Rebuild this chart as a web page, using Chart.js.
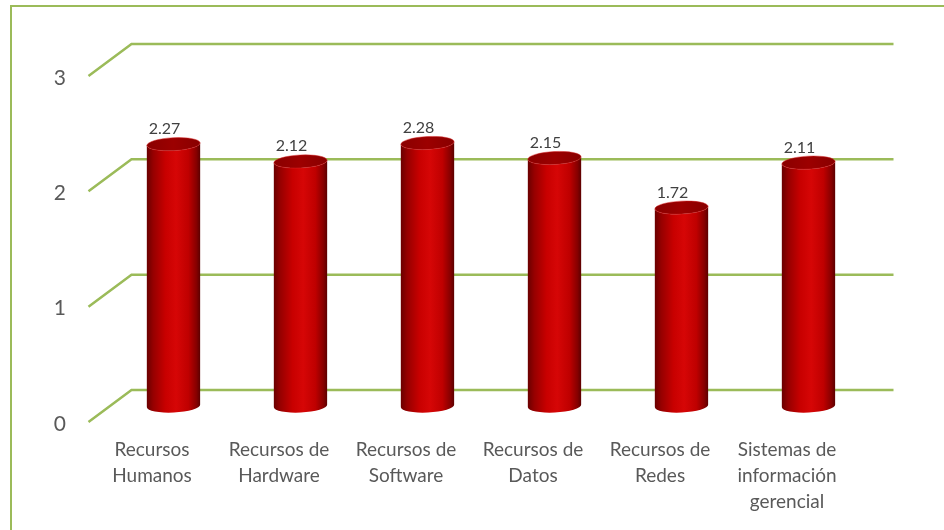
<!DOCTYPE html>
<html>
<head>
<meta charset="utf-8">
<script src="https://cdn.jsdelivr.net/npm/chart.js@4.4.1/dist/chart.umd.min.js"></script>
<style>
    html, body { margin: 0; padding: 0; background: #fff; }
    #wrap { position: relative; width: 944px; height: 530px; }
    #frame {
        position: absolute; left: 10px; top: 5px; width: 960px; height: 560px;
        border-left: 2px solid #9bbb59; border-top: 2px solid #9bbb59;
        pointer-events: none;
    }
    canvas { position: absolute; left: 0; top: 0; }
</style>
</head>
<body>
<div id="wrap">
    <canvas id="resChart" width="944" height="530"></canvas>
    <div id="frame"></div>
</div>
<script>
let categories = [
    ["Recursos", "Humanos"],
    ["Recursos de", "Hardware"],
    ["Recursos de", "Software"],
    ["Recursos de", "Datos"],
    ["Recursos de", "Redes"],
    ["Sistemas de", "información", "gerencial"]
];
let scores = [2.27, 2.12, 2.28, 2.15, 1.72, 2.11];
let yTicks = [0, 1, 2, 3];

// half of the 3D depth: back wall sits up-right, floor front down-left
let depthX = 21.5;
let depthY = 16;

// perspective gridlines: back wall line + diagonal side wall line
let wallGrid = {
    id: 'wallGrid',
    beforeDatasetsDraw(chart) {
        let ctx = chart.ctx;
        let y = chart.scales.y;
        let area = chart.chartArea;
        ctx.save();
        ctx.strokeStyle = '#9bbb59';
        ctx.lineWidth = 2.5;
        yTicks.forEach(v => {
            let py = y.getPixelForValue(v);
            ctx.beginPath();
            ctx.moveTo(area.left - depthX, py + depthY);
            ctx.lineTo(area.left + depthX, py - depthY);
            ctx.lineTo(area.right + depthX, py - depthY);
            ctx.stroke();
        });
        ctx.restore();
    }
};

// cylinders drawn on top of the (invisible) bar elements
let cylinders = {
    id: 'cylinders',
    afterDatasetsDraw(chart) {
        let ctx = chart.ctx;
        let meta = chart.getDatasetMeta(0);
        ctx.save();
        meta.data.forEach((bar, i) => {
            let x = bar.x, top = bar.y, base = bar.base;
            let rx = bar.width / 2, ry = 6.5, rot = -0.05;

            let body = ctx.createLinearGradient(x - rx, 0, x + rx, 0);
            body.addColorStop(0, '#6a0000');
            body.addColorStop(0.12, '#960000');
            body.addColorStop(0.35, '#c80000');
            body.addColorStop(0.55, '#d60606');
            body.addColorStop(0.78, '#bf0000');
            body.addColorStop(0.93, '#860000');
            body.addColorStop(1, '#5c0000');

            ctx.beginPath();
            ctx.moveTo(x - rx, top);
            ctx.lineTo(x - rx, base);
            ctx.ellipse(x, base, rx, ry, rot, Math.PI, 0, true);
            ctx.lineTo(x + rx, top);
            ctx.ellipse(x, top, rx, ry, rot, 0, Math.PI, false);
            ctx.closePath();
            ctx.fillStyle = body;
            ctx.fill();

            let cap = ctx.createLinearGradient(x - rx, 0, x + rx, 0);
            cap.addColorStop(0, '#8a0000');
            cap.addColorStop(0.5, '#9c0000');
            cap.addColorStop(1, '#880000');
            ctx.beginPath();
            ctx.ellipse(x, top, rx, ry, rot, 0, Math.PI * 2);
            ctx.fillStyle = cap;
            ctx.fill();
            ctx.strokeStyle = 'rgba(220,40,40,0.6)';
            ctx.lineWidth = 0.8;
            ctx.stroke();

            // value label
            ctx.fillStyle = '#404040';
            ctx.font = '16px Lato, "Liberation Sans", sans-serif';
            ctx.textAlign = 'center';
            ctx.textBaseline = 'alphabetic';
            ctx.fillText(scores[i].toFixed(2), x - 9, top - 10);
        });
        ctx.restore();
    }
};

let ctx = document.getElementById('resChart').getContext('2d');
new Chart(ctx, {
    type: 'bar',
    data: {
        labels: categories,
        datasets: [{
            data: scores,
            backgroundColor: 'rgba(0,0,0,0)',
            borderWidth: 0,
            barPercentage: 0.42,
            categoryPercentage: 1
        }]
    },
    options: {
        responsive: false,
        animation: false,
        layout: { padding: { top: 60, right: 72, left: 0, bottom: 0 } },
        plugins: { legend: { display: false }, tooltip: { enabled: false } },
        scales: {
            x: {
                grid: { display: false, drawTicks: false },
                border: { display: false },
                ticks: {
                    color: '#595959',
                    font: { family: 'Lato, "Liberation Sans", sans-serif', size: 19, lineHeight: 1.37 },
                    padding: 31,
                    labelOffset: -depthX,
                    maxRotation: 0,
                    autoSkip: false
                },
                afterFit(scale) { scale.height = 124; }
            },
            y: {
                min: 0,
                max: 3,
                grid: { display: false, drawTicks: false },
                border: { display: false },
                ticks: {
                    stepSize: 1,
                    color: '#595959',
                    font: { family: 'Lato, "Liberation Sans", sans-serif', size: 21 },
                    padding: 44,
                    labelOffset: 18
                },
                afterFit(scale) { scale.width = 110; }
            }
        }
    },
    plugins: [wallGrid, cylinders]
});
</script>
</body>
</html>
